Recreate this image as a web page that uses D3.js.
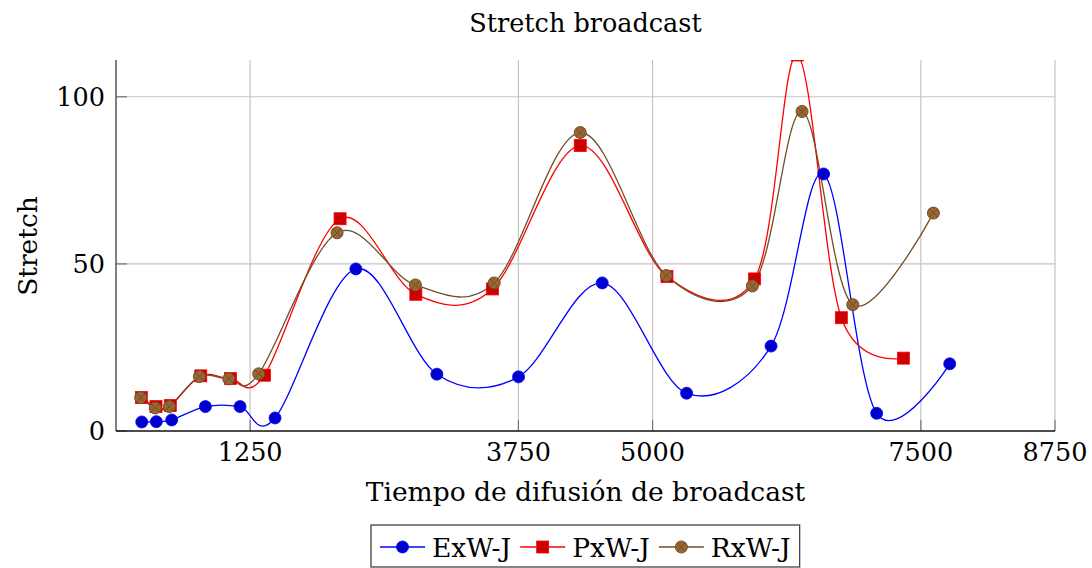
<!DOCTYPE html>
<html>
<head>
<meta charset="utf-8">
<script src="https://cdn.jsdelivr.net/npm/d3@7"></script>
<style>
  html, body { margin: 0; padding: 0; background: #fff; }
  svg { display: block; font-family: "DejaVu Serif", serif; }
</style>
</head>
<body>
<svg id="chart" width="1092" height="568"></svg>
<script>
// Values
const exwX = [240, 376, 519, 833, 1156, 1482, 2235, 2990, 3751, 4531, 5317, 6104, 6594, 7088, 7769];
const exwY = [2.7, 2.8, 3.3, 7.3, 7.3, 3.9, 48.5, 17.0, 16.2, 44.3, 11.3, 25.4, 76.9, 5.3, 20.1];

const pxwX = [236, 373, 506, 790, 1066, 1383, 2088, 2794, 3508, 4326, 5134, 5951, 6349, 6759, 7337];
const pxwY = [10.0, 7.3, 7.6, 16.5, 15.7, 16.7, 63.5, 40.9, 42.5, 85.4, 46.2, 45.5, 112.5, 33.9, 21.8];

const rxwX = [230, 366, 497, 777, 1051, 1330, 2060, 2790, 3524, 4326, 5128, 5930, 6393, 6865, 7617];
const rxwY = [10.0, 6.9, 7.3, 16.3, 15.6, 17.1, 59.3, 43.7, 44.3, 89.3, 46.5, 43.4, 95.6, 37.8, 65.2];

const seriesNames = ['ExW-J', 'PxW-J', 'RxW-J'];
const xTicks = [1250, 3750, 5000, 7500, 8750];
const yTicks = [0, 50, 100];

const series = [
  { name: seriesNames[0], xs: exwX, ys: exwY, line: '#0000ff', fill: '#0000cc', mark: 'circle' },
  { name: seriesNames[1], xs: pxwX, ys: pxwY, line: '#ff0000', fill: '#cc0000', mark: 'square' },
  { name: seriesNames[2], xs: rxwX, ys: rxwY, line: '#734d26', fill: '#996633', mark: 'otimes' },
];

const margin = { left: 116, right: 1055, top: 60, bottom: 431 };
const svg = d3.select('#chart');

const x = d3.scaleLinear().domain([0, 8750]).range([margin.left, margin.right]);
const y = d3.scaleLinear().domain([0, 111]).range([margin.bottom, margin.top]);

svg.append('defs').append('clipPath').attr('id', 'plot-clip')
  .append('rect')
  .attr('x', margin.left).attr('y', margin.top)
  .attr('width', margin.right - margin.left)
  .attr('height', margin.bottom - margin.top);

// grid
const grid = svg.append('g').attr('stroke', '#c4c4c4').attr('stroke-width', 1.2);
grid.selectAll('line.vx').data(xTicks).join('line')
  .attr('x1', d => x(d)).attr('x2', d => x(d))
  .attr('y1', margin.top).attr('y2', margin.bottom);
grid.selectAll('line.hy').data(yTicks.filter(d => d > 0)).join('line')
  .attr('y1', d => y(d)).attr('y2', d => y(d))
  .attr('x1', margin.left).attr('x2', margin.right);

// tick marks (inward)
const ticks = svg.append('g').attr('stroke', '#777').attr('stroke-width', 1.2);
ticks.selectAll('line.tx').data(xTicks).join('line')
  .attr('x1', d => x(d)).attr('x2', d => x(d))
  .attr('y1', margin.bottom).attr('y2', margin.bottom - 11);
ticks.selectAll('line.ty').data(yTicks).join('line')
  .attr('y1', d => y(d)).attr('y2', d => y(d))
  .attr('x1', margin.left).attr('x2', margin.left + 11);

// axis lines
svg.append('line')
  .attr('x1', margin.left).attr('x2', margin.left)
  .attr('y1', margin.top).attr('y2', margin.bottom)
  .attr('stroke', '#555').attr('stroke-width', 1.5);
svg.append('line')
  .attr('x1', margin.left).attr('x2', margin.right)
  .attr('y1', margin.bottom).attr('y2', margin.bottom)
  .attr('stroke', '#111').attr('stroke-width', 1.5);

// tick labels
svg.append('g').selectAll('text').data(xTicks).join('text')
  .attr('x', d => x(d)).attr('y', 461)
  .attr('text-anchor', 'middle')
  .attr('font-size', 25.5)
  .text(d => d);
svg.append('g').selectAll('text').data(yTicks).join('text')
  .attr('x', 105).attr('y', d => y(d))
  .attr('dy', '0.36em')
  .attr('text-anchor', 'end')
  .attr('font-size', 25.5)
  .text(d => d);

// titles
svg.append('text')
  .attr('x', (margin.left + margin.right) / 2).attr('y', 32)
  .attr('text-anchor', 'middle').attr('font-size', 25.5)
  .text('Stretch broadcast');
svg.append('text')
  .attr('x', (margin.left + margin.right) / 2).attr('y', 501)
  .attr('text-anchor', 'middle').attr('font-size', 26.5)
  .text('Tiempo de difusión de broadcast');
svg.append('text')
  .attr('transform', 'translate(37,246) rotate(-90)')
  .attr('text-anchor', 'middle').attr('font-size', 26.5)
  .text('Stretch');

// marker drawing
function drawMark(g, s, cx, cy) {
  if (s.mark === 'circle') {
    g.append('circle').attr('cx', cx).attr('cy', cy).attr('r', 6)
      .attr('fill', s.fill).attr('stroke', s.line).attr('stroke-width', 0.8);
  } else if (s.mark === 'square') {
    g.append('rect').attr('x', cx - 6).attr('y', cy - 6).attr('width', 12).attr('height', 12)
      .attr('fill', s.fill).attr('stroke', s.line).attr('stroke-width', 0.8);
  } else {
    g.append('circle').attr('cx', cx).attr('cy', cy).attr('r', 6)
      .attr('fill', s.fill).attr('stroke', s.line).attr('stroke-width', 1);
    const k = 6 * Math.SQRT1_2;
    g.append('path')
      .attr('d', `M${cx - k},${cy - k}L${cx + k},${cy + k}M${cx - k},${cy + k}L${cx + k},${cy - k}`)
      .attr('stroke', s.line).attr('stroke-width', 1);
  }
}

// series
const plot = svg.append('g').attr('clip-path', 'url(#plot-clip)');
const line = d3.line().curve(d3.curveCatmullRom.alpha(0))
  .x(d => x(d[0])).y(d => y(d[1]));

series.forEach(s => {
  const pts = s.xs.map((v, i) => [v, s.ys[i]]);
  plot.append('path').datum(pts)
    .attr('d', line)
    .attr('fill', 'none')
    .attr('stroke', s.line)
    .attr('stroke-width', 1.3);
});
series.forEach(s => {
  const g = plot.append('g');
  s.xs.forEach((v, i) => drawMark(g, s, x(v), y(s.ys[i])));
});

// legend
const legend = svg.append('g');
const box = legend.append('rect')
  .attr('x', 371).attr('y', 525).attr('height', 42)
  .attr('fill', '#fff').attr('stroke', '#444').attr('stroke-width', 1.3);
let lx = 380;
series.forEach(s => {
  const g = legend.append('g');
  g.append('line').attr('x1', lx).attr('x2', lx + 45).attr('y1', 547).attr('y2', 547)
    .attr('stroke', s.line).attr('stroke-width', 1.3);
  drawMark(g, s, lx + 22.5, 547);
  const t = g.append('text').attr('x', lx + 52).attr('y', 557)
    .attr('font-size', 26.5).text(s.name);
  lx += 52 + t.node().getComputedTextLength() + 9;
});
box.attr('width', lx - 371);
</script>
</body>
</html>
